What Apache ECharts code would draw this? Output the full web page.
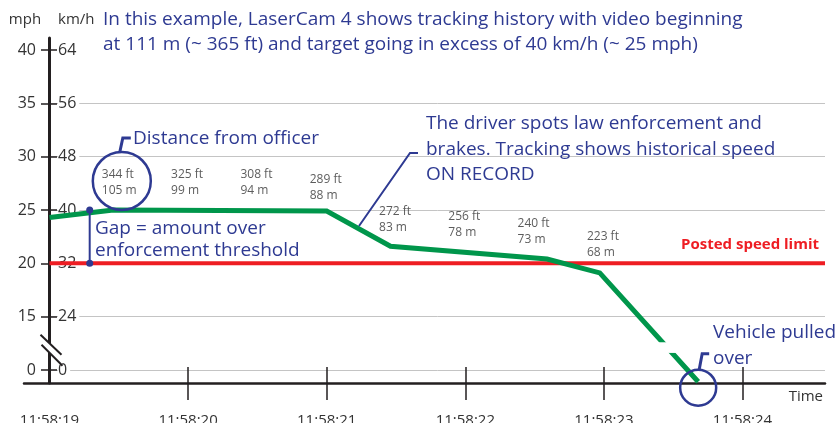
<!DOCTYPE html>
<html><head><meta charset="utf-8">
<script src="https://cdn.jsdelivr.net/npm/echarts@6/dist/echarts.min.js"></script>
<style>html,body{margin:0;padding:0;background:#fff}#c{width:839px;height:423px}</style>
</head><body><div id="c"></div>
<script>
// ---- data ----
const timeTicks = [19, 20, 21, 22, 23, 24];
const timeLabels = ['11:58:19', '11:58:20', '11:58:21', '11:58:22', '11:58:23', '11:58:24'];
const mphTicks = [0, 15, 20, 25, 30, 35, 40];
const kmhTicks = [0, 24, 32, 40, 48, 56, 64];
const speedTimes = [19.0, 19.46, 21.0, 21.46, 22.59, 22.97, 23.68];
const speedMph = [24.3, 25.0, 24.9, 21.6, 20.4, 19.1, -3.3];
const limitMph = 20;
const gapTime = 19.29;
const gapMph = [25, 20];
const distTimes = [19.5, 20.0, 20.5, 21.0, 21.5, 22.0, 22.5, 23.0];
const distFt = [344, 325, 308, 289, 272, 256, 240, 223];
const distM = [105, 99, 94, 88, 83, 78, 73, 68];
const distMph = [25, 25, 25, 24.6, 21.6, 21.1, 20.4, 19.2];

// ---- style ----
const FONT = 'Open Sans';
const BLUE = '#2E3A92';
const DARK = '#231f20';
const TXT = '#333';
const X_MIN = 19, X_MAX = 24.595;

// broken axis: 0-15 mph compressed into one step
function disp(v) { return v >= 15 ? v - 10 : v / 3; }

const chart = echarts.init(document.getElementById('c'));
chart.setOption({
  animation: false,
  textStyle: { fontFamily: FONT },
  grid: [
    { left: 49.5, right: 14, top: 50, bottom: 53, outerBoundsMode: 'none', containLabel: false },
    { left: 24, right: 14, top: 38, bottom: 40, outerBoundsMode: 'none', containLabel: false }
  ],
  xAxis: [
    { type: 'value', gridIndex: 0, min: X_MIN, max: X_MAX, position: 'bottom', offset: -3,
      axisLine: { show: false, onZero: false },
      axisTick: { show: true, length: 33, customValues: timeTicks.slice(1), lineStyle: { color: DARK, width: 1.5 } },
      axisLabel: { customValues: timeTicks, margin: 46, fontSize: 15, color: TXT, fontFamily: FONT,
        formatter: v => timeLabels[timeTicks.indexOf(v)] },
      splitLine: { show: false } },
    { type: 'value', gridIndex: 1, min: 0, max: 1, position: 'bottom',
      axisLine: { show: true, onZero: false, lineStyle: { color: DARK, width: 2.5 } },
      axisTick: { show: false }, axisLabel: { show: false }, splitLine: { show: false } }
  ],
  yAxis: [
    { type: 'value', gridIndex: 0, min: 0, max: 30, interval: 5, position: 'left', offset: -7.5,
      axisLine: { show: false, onZero: false },
      axisTick: { show: true, length: 16, lineStyle: { color: DARK, width: 1.5 } },
      axisLabel: { margin: 21, fontSize: 16, color: TXT, fontFamily: FONT,
        formatter: v => String(mphTicks[Math.round(v / 5)]) },
      splitLine: { show: true, showMaxLine: false, lineStyle: { color: '#c4c4c4', width: 1 } } },
    { type: 'value', gridIndex: 0, min: 0, max: 30, interval: 5, position: 'left', offset: 0,
      axisLine: { show: false, onZero: false }, axisTick: { show: false },
      axisLabel: { inside: true, margin: 8.5, fontSize: 16, color: TXT, fontFamily: FONT,
        backgroundColor: '#fff', padding: [0, 3, 0, 0],
        formatter: v => String(kmhTicks[Math.round(v / 5)]) },
      splitLine: { show: false } },
    { type: 'value', gridIndex: 1, min: 0, max: 1, position: 'left', offset: -25.5,
      axisLine: { show: true, onZero: false, lineStyle: { color: DARK, width: 3 } },
      axisTick: { show: false }, axisLabel: { show: false }, splitLine: { show: false } }
  ],
  series: [
    { id: 'limit', type: 'line', xAxisIndex: 0, yAxisIndex: 0, symbol: 'none', z: 2,
      data: [[X_MIN, disp(limitMph)], [X_MAX, disp(limitMph)]],
      lineStyle: { color: '#EE1D23', width: 4 } },
    { id: 'speed', type: 'line', xAxisIndex: 0, yAxisIndex: 0, symbol: 'none', clip: false, z: 3,
      data: speedTimes.map((t, i) => [t, disp(speedMph[i])]),
      lineStyle: { color: '#00964B', width: 5, cap: 'butt', join: 'miter' } },
    { id: 'gap', type: 'line', xAxisIndex: 0, yAxisIndex: 0, symbol: 'circle', symbolSize: 7, z: 4,
      data: gapMph.map(v => [gapTime, disp(v)]),
      itemStyle: { color: BLUE }, lineStyle: { color: BLUE, width: 2 } },
    { id: 'dist', type: 'scatter', xAxisIndex: 0, yAxisIndex: 0, symbolSize: 0, z: 5,
      data: distTimes.map((t, i) => [t, disp(distMph[i])]),
      label: { show: true, position: 'top', distance: 11, align: 'left', offset: [-17, 0],
        fontSize: 12, lineHeight: 16, color: TXT, fontFamily: FONT,
        formatter: p => distFt[p.dataIndex] + ' ft\n' + distM[p.dataIndex] + ' m' } }
  ]
});

// ---- annotations ----
const pxd = (t, d) => chart.convertToPixel({ seriesId: 'speed' }, [t, d]);
const px = (t, v) => pxd(t, disp(v));
const txt = (x, y, s, opt) => Object.assign({ type: 'text', x: x, y: y, z: 50,
  style: Object.assign({ text: s, fontFamily: FONT, fontSize: 19, fill: BLUE, align: 'left', verticalAlign: 'middle' }, opt || {}) });
const ln = (pts, color, w) => ({ type: 'polyline', z: 50, shape: { points: pts }, style: { stroke: color || BLUE, lineWidth: w || 2, fill: null } });

const p0 = px(distTimes[0], distMph[0]);
const c1 = [p0[0] + 3, p0[1] - 29], r1 = 29;
const last = speedTimes.length - 1;
const pe = px(speedTimes[last], speedMph[last]);
const pk = px(speedTimes[last - 1], speedMph[last - 1]);
const c2 = [pe[0], pe[1] + 6], r2 = 18;
const ax = px(19, 20)[0];
const yb = pxd(19, 1.9)[1];
// gap in speed line
const gTop = pxd(0, 2.6)[1], gBot = pxd(0, 1.6)[1];
const gy = (gTop + gBot) / 2;
const gx = pk[0] + (pe[0] - pk[0]) * (gy - pk[1]) / (pe[1] - pk[1]);

const graphics = [
  txt(103, 20, 'In this example, LaserCam 4 shows tracking history with video beginning'),
  txt(103, 45, 'at 111 m (~ 365 ft) and target going in excess of 40 km/h (~ 25 mph)'),
  txt(25, 20, 'mph', { fontSize: 15, fill: TXT, align: 'center' }),
  txt(58, 20, 'km/h', { fontSize: 15, fill: TXT }),
  txt(133, 139, 'Distance from officer'),
  txt(95, 229, 'Gap = amount over'),
  txt(95, 251, 'enforcement threshold'),
  txt(426, 124, 'The driver spots law enforcement and'),
  txt(426, 150, 'brakes. Tracking shows historical speed'),
  txt(426, 175, 'ON RECORD'),
  txt(819, 245, 'Posted speed limit', { fontSize: 15, fontWeight: 'bold', fill: '#EE1D23', align: 'right' }),
  txt(713, 333, 'Vehicle pulled'),
  txt(713, 359, 'over'),
  txt(823, 397, 'Time', { fontSize: 15, fill: TXT, align: 'right' }),
  { type: 'circle', z: 50, shape: { cx: c1[0], cy: c1[1], r: r1 }, style: { fill: null, stroke: BLUE, lineWidth: 2.5 } },
  ln([[c1[0] - 2, c1[1] - r1], [c1[0] + 1, c1[1] - 43], [c1[0] + 9, c1[1] - 43]], BLUE, 3),
  { type: 'circle', z: 50, shape: { cx: c2[0], cy: c2[1], r: r2 }, style: { fill: null, stroke: BLUE, lineWidth: 2.5 } },
  ln([[c2[0] + 1, c2[1] - r2], [c2[0] + 4, c2[1] - 34], [c2[0] + 11, c2[1] - 34]], BLUE, 3),
  ln([[359, 226], [410, 153], [418, 153]], BLUE, 2),
  // speed line break
  { type: 'rect', z: 40, shape: { x: gx - 14, y: gTop, width: 28, height: gBot - gTop }, style: { fill: '#fff' } },
  // y-axis break
  { type: 'polygon', z: 40, shape: { points: [[ax - 9, yb - 15], [ax + 12, yb + 5], [ax + 13, yb + 16], [ax - 8, yb - 5]] }, style: { fill: '#fff' } },
  ln([[ax - 9, yb - 15], [ax + 12, yb + 5]], DARK, 2),
  ln([[ax - 8, yb - 5], [ax + 13, yb + 16]], DARK, 2)
];
chart.setOption({ graphic: graphics });
</script>
</body></html>
